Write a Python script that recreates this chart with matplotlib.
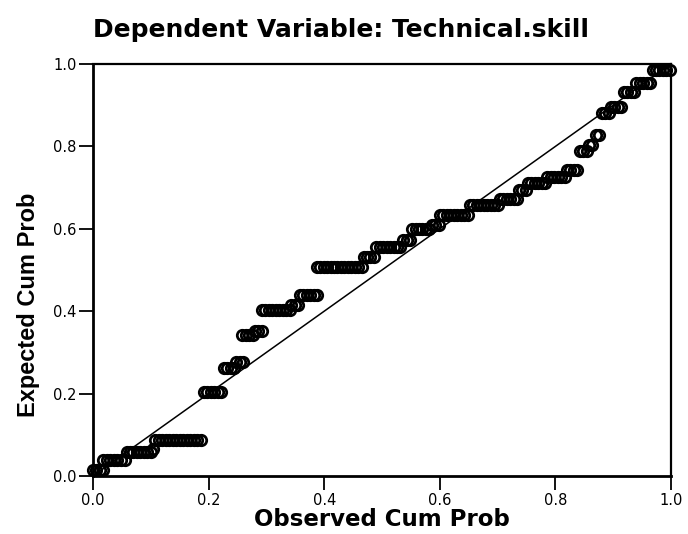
import matplotlib
matplotlib.use("Agg")
import matplotlib.pyplot as plt
import numpy as np

plt.rcParams['font.family'] = ['DejaVu Sans']

# P-P plot of regression standardized residuals (SPSS style)
# each level of expected cum prob with the observed cum probs that share it
exp_levels = [0.015, 0.038, 0.058, 0.066, 0.087, 0.205, 0.262, 0.277, 0.342, 0.352,
              0.402, 0.415, 0.440, 0.508, 0.532, 0.556, 0.573, 0.600, 0.610, 0.633,
              0.658, 0.672, 0.694, 0.711, 0.726, 0.743, 0.790, 0.803, 0.828, 0.880,
              0.895, 0.932, 0.953, 0.985]
obs_runs = [
    [0.000, 0.006, 0.012, 0.018],
    [0.018, 0.024, 0.030, 0.036, 0.042, 0.048, 0.055],
    [0.058, 0.064, 0.070, 0.076, 0.082, 0.088, 0.094, 0.100],
    [0.104],
    [0.108, 0.114, 0.120, 0.126, 0.132, 0.138, 0.144, 0.150, 0.156, 0.162, 0.168, 0.174, 0.180, 0.186],
    [0.192, 0.198, 0.204, 0.210, 0.216, 0.222],
    [0.226, 0.232, 0.238, 0.244],
    [0.248, 0.254, 0.260],
    [0.258, 0.264, 0.270, 0.276],
    [0.280, 0.286, 0.292],
    [0.292, 0.298, 0.304, 0.310, 0.316, 0.322, 0.328, 0.334, 0.340],
    [0.343, 0.349, 0.355],
    [0.358, 0.364, 0.370, 0.376, 0.382, 0.388],
    [0.387, 0.393, 0.399, 0.405, 0.411, 0.417, 0.423, 0.429, 0.435, 0.441, 0.447, 0.453, 0.459, 0.465],
    [0.468, 0.474, 0.480, 0.486],
    [0.490, 0.496, 0.502, 0.508, 0.514, 0.520, 0.526, 0.532],
    [0.537, 0.543, 0.549],
    [0.552, 0.558, 0.564, 0.570, 0.576, 0.582],
    [0.586, 0.592, 0.598],
    [0.600, 0.606, 0.612, 0.618, 0.624, 0.630, 0.636, 0.642, 0.648],
    [0.652, 0.658, 0.664, 0.670, 0.676, 0.682, 0.688, 0.694, 0.700],
    [0.704, 0.710, 0.716, 0.722, 0.728, 0.734],
    [0.737, 0.743, 0.749],
    [0.752, 0.758, 0.764, 0.770, 0.776, 0.782],
    [0.786, 0.792, 0.798, 0.804, 0.810, 0.816],
    [0.820, 0.826, 0.832, 0.838],
    [0.842, 0.848, 0.855],
    [0.858, 0.864],
    [0.870, 0.876],
    [0.880, 0.886, 0.892],
    [0.896, 0.902, 0.908, 0.914],
    [0.918, 0.924, 0.930, 0.936],
    [0.940, 0.946, 0.952, 0.958, 0.964],
    [0.968, 0.974, 0.980, 0.986, 0.992, 0.998],
]
tick_vals = [0.0, 0.2, 0.4, 0.6, 0.8, 1.0]

obs = np.concatenate([np.array(r) for r in obs_runs])
exp = np.concatenate([np.full(len(r), lv) for r, lv in zip(obs_runs, exp_levels)])

fig = plt.figure(figsize=(6.88, 5.34), dpi=100)
ax = fig.add_axes([93/688, 1 - 476/534, 578/688, 412/534])

ax.plot([0, 1], [0, 1], color='black', lw=1.1, zorder=2)
ax.plot(obs, exp, 'o', ms=7.5, mfc='none', mec='black', mew=2.0, zorder=3, clip_on=False)

ax.set_xlim(0, 1)
ax.set_ylim(0, 1)
ax.set_xticks(tick_vals)
ax.set_yticks(tick_vals)
ax.set_xticklabels([f'{v:.1f}' for v in tick_vals])
ax.set_yticklabels([f'{v:.1f}' for v in tick_vals])
ax.tick_params(direction='out', length=10, width=1.3, labelsize=10.5, pad=2, color='black')
for s in ['left', 'bottom']:
    ax.spines[s].set_linewidth(2.0)
for s in ['top', 'right']:
    ax.spines[s].set_linewidth(1.6)

fig.text(382/688, 1 - 520/534, 'Observed Cum Prob', fontsize=16.5,
         fontweight='bold', ha='center', va='center')
fig.text(29/688, 1 - 305/534, 'Expected Cum Prob', rotation=90, fontsize=17,
         fontweight='bold', ha='center', va='center', family=['Liberation Sans'])
fig.text(341/688, 1 - 30/534, 'Dependent Variable: Technical.skill', fontsize=18,
         fontweight='bold', ha='center', va='center')

fig.savefig('out.png', dpi=100)
